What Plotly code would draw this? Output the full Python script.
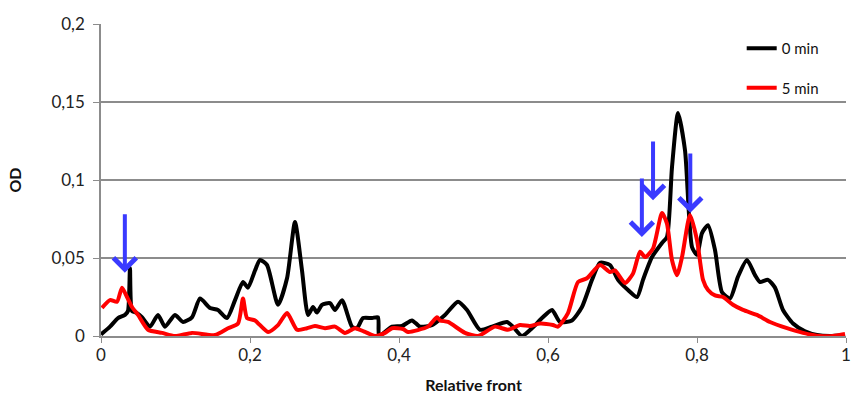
import plotly.graph_objects as go

# ---- data ----
black_x = [0.000, 0.0121, 0.0228, 0.0322, 0.0362, 0.0389, 0.0416, 0.0470, 0.0550, 0.0658,
           0.0765, 0.0859, 0.0993, 0.1101, 0.1221, 0.1329, 0.1463, 0.1570, 0.1691, 0.1799,
           0.1906, 0.1973, 0.2067, 0.2134, 0.2228, 0.2376, 0.2497, 0.2604, 0.2698, 0.2779,
           0.2846, 0.2899, 0.2966, 0.3074, 0.3141, 0.3235, 0.3369, 0.3436, 0.3517, 0.3638,
           0.3718, 0.3732, 0.3812, 0.3906, 0.4040, 0.4174, 0.4282, 0.4443, 0.4617, 0.4792,
           0.4913, 0.5087, 0.5248, 0.5450, 0.5530, 0.5651, 0.5785, 0.5919, 0.6054, 0.6161,
           0.6322, 0.6456, 0.6591, 0.6698, 0.6832, 0.6940, 0.7074, 0.7195, 0.7275, 0.7396,
           0.7530, 0.7597, 0.7664, 0.7745, 0.7839, 0.7933, 0.8000, 0.8067, 0.8148, 0.8242,
           0.8336, 0.8443, 0.8550, 0.8671, 0.8779, 0.8846, 0.8953, 0.9047, 0.9154, 0.9289,
           0.9450, 0.9611, 0.9785, 0.9960]
black_y = [0.001, 0.006, 0.0115, 0.0135, 0.016, 0.0436, 0.016, 0.015, 0.012, 0.006,
           0.0135, 0.006, 0.0135, 0.009, 0.012, 0.024, 0.018, 0.0167, 0.0115, 0.023,
           0.0346, 0.031, 0.042, 0.0487, 0.0455, 0.020, 0.037, 0.073, 0.042, 0.0135,
           0.0186, 0.015, 0.020, 0.021, 0.0167, 0.023, 0.006, 0.005, 0.0115, 0.0115,
           0.012, 0.000, 0.0026, 0.006, 0.0064, 0.010, 0.006, 0.007, 0.0135, 0.022,
           0.0167, 0.004, 0.006, 0.009, 0.006, 0.000, 0.005, 0.0115, 0.0167, 0.009,
           0.010, 0.0186, 0.036, 0.047, 0.0455, 0.036, 0.0295, 0.025, 0.036, 0.0506,
           0.0596, 0.0635, 0.108, 0.143, 0.119, 0.057, 0.052, 0.066, 0.071, 0.055,
           0.028, 0.024, 0.038, 0.0487, 0.039, 0.0346, 0.036, 0.031, 0.0167, 0.008,
           0.003, 0.0006, 0.000, 0.0006]

red_x = [0.0013, 0.0121, 0.0215, 0.0282, 0.0349, 0.0416, 0.0497, 0.0631, 0.0819, 0.0993,
         0.1221, 0.1530, 0.1705, 0.1839, 0.1906, 0.1960, 0.2067, 0.2242, 0.2376, 0.2497,
         0.2631, 0.2765, 0.2872, 0.3007, 0.3141, 0.3275, 0.3409, 0.3544, 0.3678, 0.3812,
         0.3906, 0.4054, 0.4121, 0.4389, 0.4510, 0.4550, 0.4658, 0.4886, 0.5060, 0.5289,
         0.5463, 0.5624, 0.5758, 0.5893, 0.6067, 0.6134, 0.6268, 0.6403, 0.6523, 0.6698,
         0.6832, 0.6899, 0.7034, 0.7141, 0.7235, 0.7302, 0.7409, 0.7530, 0.7597, 0.7664,
         0.7732, 0.7799, 0.7906, 0.8000, 0.8081, 0.8148, 0.8242, 0.8349, 0.8483, 0.8617,
         0.8805, 0.8980, 0.9208, 0.9423, 0.9651, 0.9826, 0.9987]
red_y = [0.018, 0.023, 0.022, 0.031, 0.025, 0.0186, 0.0135, 0.004, 0.002, 0.000,
         0.002, 0.0006, 0.005, 0.008, 0.024, 0.0115, 0.010, 0.0026, 0.007, 0.0147,
         0.004, 0.005, 0.0064, 0.005, 0.006, 0.002, 0.005, 0.0026, 0.000, 0.002,
         0.005, 0.0045, 0.0026, 0.006, 0.012, 0.010, 0.009, 0.002, 0.000, 0.006,
         0.004, 0.007, 0.0064, 0.008, 0.007, 0.006, 0.0147, 0.0346, 0.037, 0.0455,
         0.041, 0.042, 0.034, 0.040, 0.054, 0.0506, 0.056, 0.0788, 0.072, 0.0487,
         0.039, 0.0506, 0.0776, 0.0615, 0.036, 0.0295, 0.026, 0.025, 0.020, 0.0167,
         0.0135, 0.009, 0.005, 0.002, 0.000, 0.000, 0.0013]

series_names = ["0 min", "5 min"]

# arrows: x position, tail y, tip y
arrow_x = [0.032, 0.726, 0.741, 0.791]
arrow_tail = [0.079, 0.102, 0.1256, 0.118]
arrow_tip = [0.0405, 0.0635, 0.087, 0.079]

x_tick_vals = [0, 0.2, 0.4, 0.6, 0.8, 1.0]
x_tick_text = ["0", "0,2", "0,4", "0,6", "0,8", "1"]
y_tick_vals = [0, 0.05, 0.1, 0.15, 0.2]
y_tick_text = ["0", "0,05", "0,1", "0,15", "0,2"]

FONT = "Lato, 'Open Sans', sans-serif"

fig = go.Figure()
fig.add_trace(go.Scatter(x=black_x, y=black_y, mode="lines", name=series_names[0],
                         legendgroup="a",
                         line=dict(color="#000000", width=4, shape="spline", smoothing=0.6)))
fig.add_trace(go.Scatter(x=red_x, y=red_y, mode="lines", name=series_names[1],
                         legendgroup="b",
                         line=dict(color="#ff0000", width=4, shape="spline", smoothing=0.6)))

for ax_, tail, tip in zip(arrow_x, arrow_tail, arrow_tip):
    fig.add_annotation(x=ax_, y=tip, ax=ax_, ay=tail, axref="x", ayref="y",
                       xref="x", yref="y", text="", showarrow=True,
                       arrowhead=4, arrowsize=1.1, arrowwidth=4, arrowcolor="#3a3aff",
                       standoff=0)

grid = "#8c8c8c"
fig.update_layout(
    width=851, height=397,
    margin=dict(l=101, r=5, t=24, b=61, autoexpand=False),
    plot_bgcolor="white", paper_bgcolor="white",
    font=dict(family=FONT, size=17, color="#222222"),
    legend=dict(x=0.86, y=0.974, xanchor="left", yanchor="top",
                traceorder="grouped", tracegroupgap=17,
                font=dict(size=15, color="#111111"), bgcolor="rgba(0,0,0,0)"),
    xaxis=dict(range=[0, 1], tickvals=x_tick_vals, ticktext=x_tick_text,
               showgrid=False, showline=True, linecolor=grid, linewidth=1.5,
               ticks="outside", ticklen=5, tickcolor=grid, zeroline=False,
               automargin=False, ticklabelstandoff=-2,
               title=dict(text="<b>Relative front</b>", font=dict(size=16, color="#111111"),
                          standoff=16)),
    yaxis=dict(range=[0, 0.2], tickvals=y_tick_vals, ticktext=y_tick_text,
               showgrid=True, gridcolor=grid, gridwidth=1.5,
               showline=True, linecolor=grid, linewidth=1.5,
               ticks="outside", ticklen=6, tickcolor=grid, zeroline=False,
               automargin=False, ticklabelstandoff=5,
               title=dict(text="<b>OD</b>", font=dict(size=16, color="#111111"),
                          standoff=26)),
)

fig.write_html("out.html", config={"displayModeBar": False},
               post_script="document.body.style.margin='0';document.body.style.overflow='hidden';")
